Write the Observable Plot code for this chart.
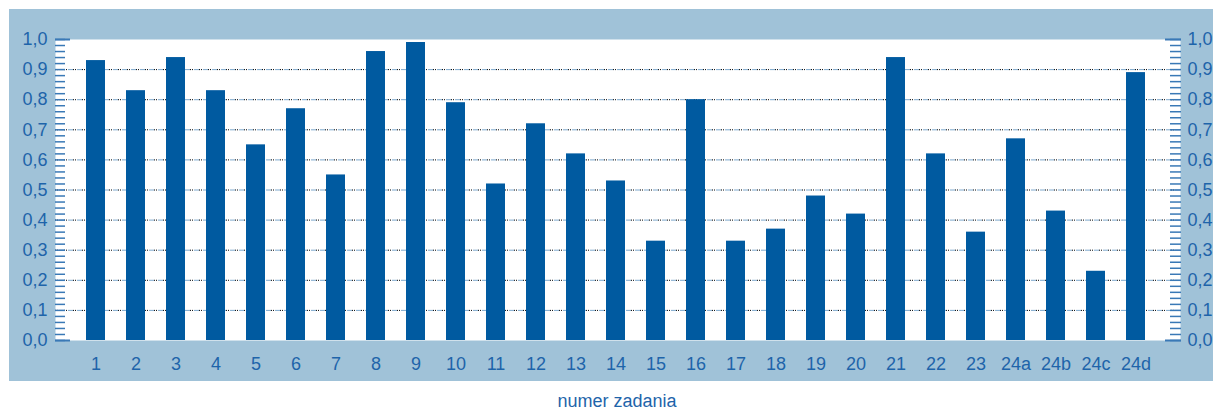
<!DOCTYPE html>
<html>
<head>
<meta charset="utf-8">
<script src="https://cdn.jsdelivr.net/npm/d3@7"></script>
<script src="https://cdn.jsdelivr.net/npm/@observablehq/plot@0.6"></script>
<style>
  body { margin: 0; background: #ffffff; font-family: "Liberation Sans", Arial, sans-serif; }
  #wrap { position: relative; width: 1213px; height: 382px; }
  #panel { position: absolute; left: 9px; top: 9px; width: 1204px; height: 372px; background: #a0c2d8; }
  #chart { position: absolute; left: 0; top: 0; }
  #caption { width: 1192px; padding-left: 21px; text-align: center; font-size: 18px; line-height: 18px; margin-top: 10px; color: #1e64aa; }
</style>
</head>
<body>
<div id="wrap"><div id="panel"></div><div id="chart"></div></div>
<div id="caption">numer zadania</div>
<script>
const categories = ["1","2","3","4","5","6","7","8","9","10","11","12","13","14","15","16","17","18","19","20","21","22","23","24a","24b","24c","24d"];
const values = [0.93,0.83,0.94,0.83,0.65,0.77,0.55,0.96,0.99,0.79,0.52,0.72,0.62,0.53,0.33,0.80,0.33,0.37,0.48,0.42,0.94,0.62,0.36,0.67,0.43,0.23,0.89];
const yLabelTicks = [0,0.1,0.2,0.3,0.4,0.5,0.6,0.7,0.8,0.9,1.0];
const gridTicks = [0.1,0.2,0.3,0.4,0.5,0.6,0.7,0.8,0.9];

const data = categories.map((k, i) => ({k, v: values[i]}));
const minorTicks = d3.range(0, 51).map(i => i / 50);
const fmt = d => d.toFixed(1).replace(".", ",");
const textColor = "#1e64aa";
const tickColor = "#3a79b6";

const chart = Plot.plot({
  width: 1213,
  height: 382,
  marginTop: 39,
  marginBottom: 42,
  marginLeft: 55,
  marginRight: 33,
  x: {domain: categories, range: [85.5, 1146.6], paddingInner: 0.525, paddingOuter: 0, align: 0, label: null},
  y: {domain: [0, 1], label: null},
  style: {background: "transparent", fontFamily: "'Liberation Sans', Arial, sans-serif", fontSize: "18px", color: textColor},
  marks: [
    Plot.frame({fill: "white", stroke: null}),
    Plot.ruleY(gridTicks, {stroke: "#7ea8cc", strokeWidth: 1, strokeDasharray: "0,4,5,0"}),
    Plot.ruleY(gridTicks, {stroke: "#000000", strokeWidth: 1, strokeDasharray: "1,1,1,6"}),
    Plot.barY(data, {x: "k", y: "v", fill: "#005aa0"}),
    Plot.axisY({anchor: "left", ticks: minorTicks, tickSize: -10, tickFormat: () => "", stroke: tickColor, strokeWidth: 1.5, label: null}),
    Plot.axisY({anchor: "right", ticks: minorTicks, tickSize: -11, tickFormat: () => "", stroke: tickColor, strokeWidth: 1.5, label: null}),
    Plot.axisY({anchor: "left", ticks: [0, 1], tickSize: -15, tickFormat: () => "", stroke: tickColor, strokeWidth: 2, label: null}),
    Plot.axisY({anchor: "right", ticks: [0, 1], tickSize: -16, tickFormat: () => "", stroke: tickColor, strokeWidth: 2, label: null}),
    Plot.axisY({anchor: "left", ticks: yLabelTicks, tickSize: 0, tickPadding: 8, tickFormat: fmt, fill: textColor, label: null}),
    Plot.axisY({anchor: "right", ticks: yLabelTicks, tickSize: 0, tickPadding: 7, tickFormat: fmt, fill: textColor, label: null}),
    Plot.axisX({tickSize: 0, tickPadding: 17, fill: textColor, label: null})
  ]
});
document.getElementById("chart").appendChild(chart);
</script>
</body>
</html>
